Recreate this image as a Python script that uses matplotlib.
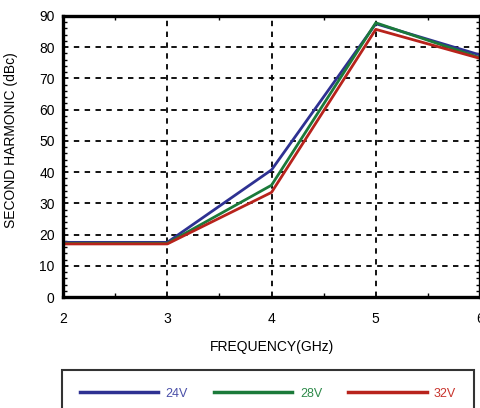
import numpy as np
import matplotlib.pyplot as plt
from matplotlib.ticker import MultipleLocator

plt.rcParams['font.family'] = ['Liberation Sans', 'DejaVu Sans']

# Data
freq = [2, 3, 4, 5, 6]
harm_24v = [17.5, 17.5, 40.7, 87.5, 77.5]
harm_28v = [17.2, 17.2, 35.8, 87.8, 76.6]
harm_32v = [17.0, 17.0, 33.5, 85.7, 76.4]
labels = ['24V', '28V', '32V']
colors = ['#2e3192', '#1b7a3a', '#b8231c']
text_colors = ['#4a4fa8', '#2e8a4a', '#c8332c']

fig = plt.figure(figsize=(4.81, 4.08), dpi=100)
ax = fig.add_axes([0.131, 0.272, 0.867, 0.689])

lines = []
for ys, lab, c in zip([harm_24v, harm_28v, harm_32v], labels, colors):
    ln, = ax.plot(freq, ys, color=c, lw=2.0, label=lab)
    lines.append(ln)

ax.set_xlim(2, 6)
ax.set_ylim(0, 90)
ax.xaxis.set_major_locator(MultipleLocator(1))
ax.xaxis.set_minor_locator(MultipleLocator(0.5))
ax.yaxis.set_major_locator(MultipleLocator(10))
ax.yaxis.set_minor_locator(MultipleLocator(2))
ax.tick_params(which='both', direction='in', top=True, right=True, labelsize=10)
ax.tick_params(which='major', length=0)
ax.tick_params(axis='x', which='major', pad=11)
ax.tick_params(axis='y', which='major', pad=6)
ax.tick_params(which='minor', length=3, width=1)
ax.grid(True, which='major', color='black', linestyle=(0, (3, 3)), lw=1.3)
for s in ax.spines.values():
    s.set_linewidth(2.4)

ax.set_xlabel('FREQUENCY(GHz)', fontsize=10, labelpad=10)
ax.set_ylabel('SECOND HARMONIC (dBc)', fontsize=10)
ax.yaxis.set_label_coords(-0.109, 0.559)

leg = fig.legend(handles=lines, loc='upper left', ncol=3, mode='expand',
                 bbox_to_anchor=(0.129, 0.0, 0.856, 0.093),
                 fontsize=9, handlelength=6.3, handletextpad=0.6,
                 borderpad=1.4, frameon=True, fancybox=False, borderaxespad=0)
leg.get_frame().set_edgecolor('black')
leg.get_frame().set_linewidth(1.5)
for t, c in zip(leg.get_texts(), text_colors):
    t.set_color(c)
for h in leg.legend_handles:
    h.set_linewidth(2.5)

fig.savefig('out.png', dpi=100)
